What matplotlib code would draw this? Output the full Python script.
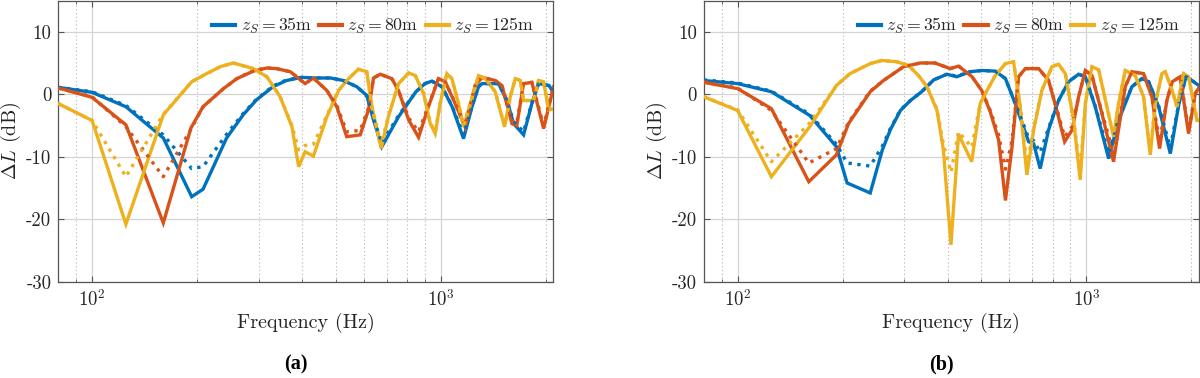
import matplotlib
matplotlib.use('Agg')
import matplotlib.pyplot as plt
from matplotlib.ticker import FixedLocator, NullFormatter

# ---------------- data ----------------
# Panel (a)
fa35 = [80, 100, 125, 160, 193, 208, 243, 271, 296, 330, 361, 399, 431, 482, 525, 574, 613, 640, 677, 756,
        848, 900, 942, 1007, 1077, 1161, 1228, 1282, 1311, 1463, 1546, 1616, 1726, 1823, 1905, 2040, 2127]
La35 = [1.1, 0.3, -2.0, -7.0, -16.4, -15.2, -7.0, -3.3, -0.9, 1.2, 2.2, 2.7, 2.6, 2.6, 2.2, 1.2, -0.2, -4.0, -8.4, -3.6,
        0.4, 1.7, 2.1, 1.2, -2.0, -7.1, -2.0, 1.2, 1.7, 1.7, -1.0, -4.7, -6.5, -1.5, 1.7, 1.4, -0.1]
La35d = [1.1, 0.4, -1.8, -6.5, -11.9, -11.6, -6.4, -3.1, -0.8, 1.3, 2.3, 2.7, 2.6, 2.6, 2.2, 1.2, -0.2, -3.8, -7.8, -3.4,
         0.4, 1.7, 2.1, 1.2, -1.9, -6.5, -1.9, 1.2, 1.7, 1.7, -1.0, -4.4, -6.0, -1.4, 1.7, 1.4, -0.1]

fa80 = [80, 100, 125, 160, 192, 208, 238, 260, 290, 317, 338, 370, 408, 431, 471, 503, 537, 587, 620, 641,
        670, 723, 756, 808, 863, 921, 984, 1029, 1099, 1174, 1254, 1311, 1431, 1496, 1598, 1650, 1726, 1823, 1970, 2104]
La80 = [1.0, -0.5, -4.9, -20.6, -5.4, -2.0, 0.9, 2.5, 3.7, 4.2, 4.1, 3.6, 1.7, 2.6, 0.6, -2.0, -6.8, -6.5, -2.5, 2.6,
        3.2, 2.5, 0.6, -4.1, -6.9, -2.0, 2.5, 2.0, -1.5, -5.3, 1.4, 2.7, 2.2, 1.4, -4.7, -5.0, 1.7, 1.9, -5.5, 1.2]
La80d = [1.0, -0.4, -5.2, -13.2, -5.6, -2.0, 0.9, 2.5, 3.8, 4.2, 4.1, 3.6, 1.7, 2.6, 0.6, -1.8, -6.0, -5.8, -2.2, 2.6,
         3.2, 2.5, 0.6, -3.8, -6.0, -1.8, 2.5, 2.0, -1.4, -5.0, 1.4, 2.7, 2.2, 1.4, -4.3, -4.6, 1.7, 1.9, -5.0, 1.2]

fa125 = [80, 100, 125, 160, 193, 213, 233, 254, 290, 317, 346, 374, 391, 408, 431, 471, 509, 537, 580, 613,
         634, 674, 707, 756, 808, 844, 892, 932, 963, 995, 1040, 1075, 1123, 1161, 1200, 1282, 1340, 1431, 1522, 1581,
         1634, 1689, 1726, 1844, 1905, 1970, 2036, 2127]
La125 = [-1.5, -4.2, -20.8, -3.3, 2.0, 3.3, 4.4, 5.0, 4.1, 2.8, -0.4, -5.2, -11.6, -9.2, -9.9, -3.6, 0.6, 2.2, 4.0, 3.6,
         -2.0, -8.7, -3.6, 1.7, 3.4, 3.0, 0.1, -4.7, -6.3, -1.5, 3.3, 2.5, -1.5, -5.2, -2.5, 3.0, 2.5, 0.4, -5.2, -0.4,
         2.5, 2.2, -1.0, -1.0, 2.2, 2.0, -2.5, -2.3]
La125d = [-1.5, -4.2, -13.2, -3.2, 2.0, 3.3, 4.4, 5.0, 4.1, 2.8, -0.4, -5.0, -8.9, -8.2, -8.0, -3.4, 0.6, 2.2, 4.0, 3.6,
          -2.0, -8.0, -3.5, 1.7, 3.4, 3.0, 0.1, -4.5, -6.0, -1.5, 3.3, 2.5, -1.5, -5.0, -2.4, 3.0, 2.5, 0.4, -5.0, -0.4,
          2.5, 2.2, -1.0, -1.0, 2.2, 2.0, -2.4, -2.3]

# Panel (b)
fb35 = [80, 100, 125, 161, 192, 206, 240, 260, 274, 293, 313, 337, 365, 398, 425, 464, 501, 548, 586, 625,
        683, 706, 737, 779, 832, 889, 950, 993, 1060, 1158, 1237, 1350, 1443, 1508, 1611, 1740, 1842, 1930, 2007, 2122]
Lb35 = [2.2, 1.7, 0.4, -3.4, -8.4, -14.2, -15.8, -8.9, -5.7, -2.6, -1.0, 0.4, 2.3, 3.2, 2.8, 3.6, 3.8, 3.7, 2.5, -1.5,
        -7.6, -7.9, -11.9, -5.7, -1.0, 2.0, 3.2, 2.8, -2.0, -10.3, -4.2, 1.2, 2.5, 2.0, -2.0, -9.5, -1.5, 2.8, 2.2, 1.2]
Lb35d = [2.3, 1.8, 0.5, -3.2, -8.0, -11.0, -11.5, -8.3, -5.5, -2.5, -1.0, 0.4, 2.3, 3.2, 2.9, 3.6, 3.8, 3.7, 2.5, -1.4,
         -7.0, -7.4, -9.3, -5.4, -1.0, 2.0, 3.2, 2.8, -1.9, -9.5, -4.0, 1.2, 2.5, 2.0, -1.9, -8.5, -1.4, 2.8, 2.2, 1.2]

fb80 = [80, 100, 125, 160, 192, 208, 240, 262, 299, 334, 368, 407, 430, 470, 501, 530, 560, 586, 612, 639,
        668, 730, 779, 823, 866, 910, 950, 993, 1037, 1108, 1196, 1292, 1350, 1458, 1541, 1621, 1701, 1762, 1858, 1963,
        2051, 2122]
Lb80 = [1.9, 0.9, -2.3, -14.0, -9.7, -4.7, 0.4, 2.2, 4.4, 5.0, 5.0, 4.1, 4.5, 2.8, 0.6, -2.8, -7.3, -17.0, -8.4, 2.8,
        4.1, 4.1, 2.2, -2.6, -7.6, -5.7, -0.4, 3.8, 3.0, -3.1, -10.8, 1.2, 3.6, 3.3, -0.4, -8.7, -1.0, 2.0, 2.8, -6.3,
        0.1, 1.4]
Lb80d = [2.0, 1.0, -2.6, -11.0, -8.7, -4.5, 0.5, 2.2, 4.4, 5.0, 5.0, 4.1, 4.5, 2.8, 0.6, -2.6, -6.5, -12.0, -7.5, 2.8,
         4.1, 4.1, 2.2, -2.4, -6.8, -5.2, -0.4, 3.8, 3.0, -2.9, -9.5, 1.2, 3.6, 3.3, -0.4, -7.5, -1.0, 2.0, 2.8, -5.8,
         0.1, 1.4]

fb125 = [80, 100, 125, 161, 192, 210, 240, 259, 286, 309, 330, 349, 373, 389, 409, 430, 469, 496, 513, 548,
         586, 618, 646, 675, 706, 745, 796, 832, 870, 919, 960, 993, 1037, 1084, 1134, 1196, 1237, 1292, 1380, 1458,
         1524, 1576, 1646, 1683, 1762, 1818, 1900, 1963, 2074, 2122]
Lb125 = [-0.4, -2.6, -13.2, -5.2, 1.4, 3.3, 4.9, 5.4, 5.2, 4.6, 3.0, 1.2, -2.6, -8.9, -24.1, -6.4, -10.8, -1.5, 0.1, 3.0,
         4.9, 5.2, -2.0, -12.9, -5.7, 0.6, 4.4, 4.8, 3.3, -4.2, -13.7, -1.5, 4.4, 3.9, -1.0, -6.8, -1.5, 3.8, 3.0, -0.4,
         -9.7, -1.5, 3.3, 3.6, 0.6, -2.0, 3.3, 2.8, -4.2, -4.2]
Lb125d = [-0.4, -2.5, -10.8, -4.6, 1.4, 3.3, 4.9, 5.4, 5.2, 4.6, 3.0, 1.2, -2.4, -8.0, -12.5, -6.0, -8.5, -1.4, 0.1, 3.0,
          4.9, 5.2, -1.8, -11.5, -5.4, 0.6, 4.4, 4.8, 3.3, -4.0, -12.5, -1.4, 4.4, 3.9, -1.0, -6.5, -1.4, 3.8, 3.0, -0.4,
          -9.0, -1.4, 3.3, 3.6, 0.6, -2.0, 3.3, 2.8, -4.0, -4.0]

series_labels = [r'$z_S = 35$m', r'$z_S = 80$m', r'$z_S = 125$m']
colors = ['#0072BD', '#D95319', '#EDB120']
yticks = [-30, -20, -10, 0, 10]
ytick_labels = ['-30', '-20', '-10', '0', '10']
xticks = [100, 1000]
xtick_labels = [r'$10^2$', r'$10^3$']
xminor = [90, 200, 300, 400, 500, 600, 700, 800, 900, 2000]
panel_labels = ['(a)', '(b)']

# ---------------- style ----------------
plt.rcParams['mathtext.fontset'] = 'cm'
plt.rcParams['font.family'] = 'cmr10'
plt.rcParams['axes.unicode_minus'] = False
plt.rcParams['axes.formatter.use_mathtext'] = True

W, H = 1200, 378
fig = plt.figure(figsize=(W / 100, H / 100), dpi=100)

ax_left_px = [58.3, 703.8]
ax_w_px = 495.0
ax_bottom_px = 281.7
ax_top_px = 0.5

panels = [
    [(fa35, La35, La35d), (fa80, La80, La80d), (fa125, La125, La125d)],
    [(fb35, Lb35, Lb35d), (fb80, Lb80, Lb80d), (fb125, Lb125, Lb125d)],
]

spine_col = '#555555'
text_col = '#262626'

for i, pdata in enumerate(panels):
    ax = fig.add_axes([ax_left_px[i] / W, 1 - ax_bottom_px / H, ax_w_px / W, (ax_bottom_px - ax_top_px) / H])
    ax.set_xscale('log')
    handles = []
    for (f, L, Ld), c, lab in zip(pdata, colors, series_labels):
        h, = ax.plot(f, L, color=c, lw=2.4, ls='-', label=lab, zorder=3, solid_joinstyle='miter')
        ax.plot(f, Ld, color=c, lw=2.4, ls=':', zorder=3.1)
        handles.append(h)
    ax.set_xlim(80, 2100)
    ax.set_ylim(-30, 15)
    ax.xaxis.set_major_locator(FixedLocator(xticks))
    ax.set_xticklabels(xtick_labels)
    ax.xaxis.set_minor_locator(FixedLocator(xminor))
    ax.xaxis.set_minor_formatter(NullFormatter())
    ax.set_yticks(yticks)
    ax.set_yticklabels(ytick_labels)
    ax.grid(True, which='major', axis='both', color='#d4d4d4', lw=0.9, ls='-', zorder=0)
    ax.grid(True, which='minor', axis='x', color='#bdbdbd', lw=0.8, ls=(0, (1.2, 2.2)), zorder=0)
    ax.tick_params(which='major', direction='in', length=4, width=0.8, colors=spine_col,
                   labelcolor=text_col, labelsize=13.5, top=True, right=True, pad=5)
    ax.tick_params(which='minor', direction='in', length=2, width=0.6, colors=spine_col, top=True)
    for s in ax.spines.values():
        s.set_color(spine_col)
        s.set_linewidth(0.9)
    ax.set_axisbelow(True)
    leg = ax.legend(handles=handles, loc='upper right', ncol=3, frameon=False, fontsize=12.8,
                    handlelength=1.3, handletextpad=0.3, columnspacing=0.4, borderaxespad=0.25,
                    bbox_to_anchor=(0.985, 0.985))
    for t in leg.get_texts():
        t.set_color(text_col)
    for lh in leg.get_lines():
        lh.set_linewidth(3.0)

    cx = (ax_left_px[i] + ax_w_px / 2) / W
    fig.text(cx, 1 - 323 / H, 'Frequency (Hz)', ha='center', va='center', fontsize=14.5, color=text_col)
    fig.text((ax_left_px[i] - 47) / W, 1 - 141 / H, r'$\Delta L$ (dB)', rotation=90, ha='center', va='center',
             fontsize=14.5, color=text_col)
    fig.text(cx - 10 / W, 1 - 364 / H, panel_labels[i], ha='center', va='center', fontsize=14.5,
             fontweight='bold', family='Liberation Serif', color='#000000')

fig.savefig('out.png', dpi=100)
